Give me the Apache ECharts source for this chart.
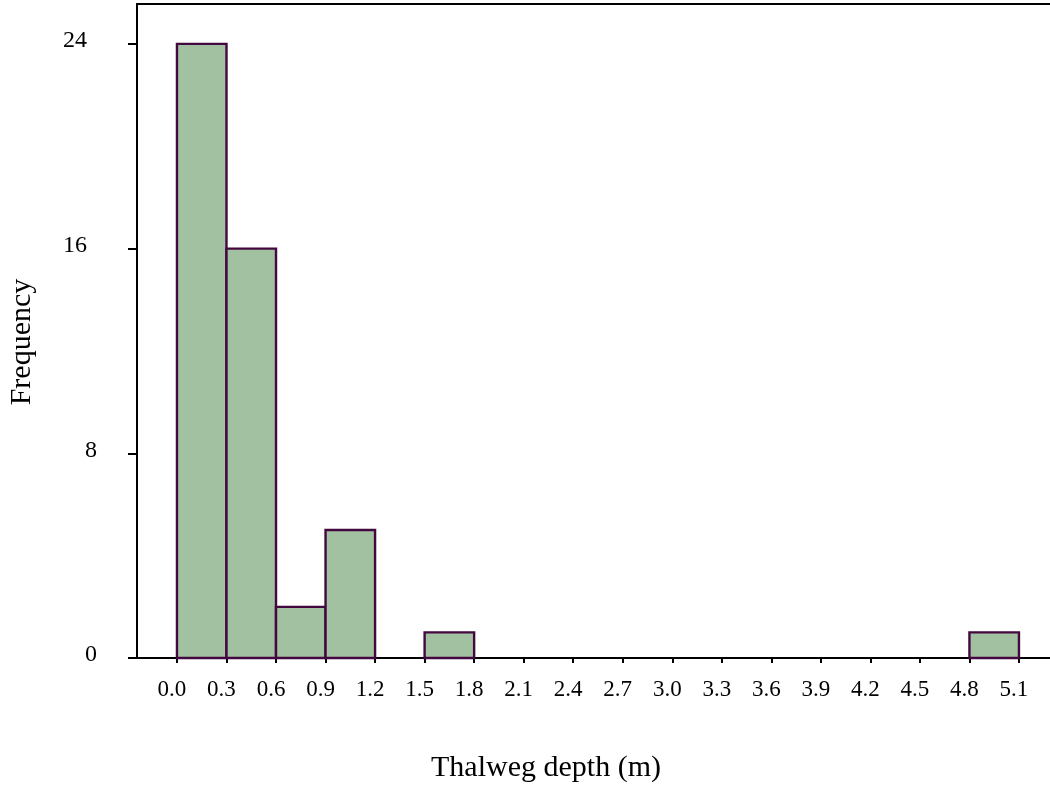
<!DOCTYPE html>
<html>
<head>
<meta charset="utf-8">
<script src="https://cdn.jsdelivr.net/npm/echarts@6/dist/echarts.min.js"></script>
<style>
html,body{margin:0;padding:0;background:#fff;}
#chart{width:1050px;height:790px;}
</style>
</head>
<body>
<div id="chart"></div>
<script>
// Histogram bins (m) and frequencies
const binStarts = [0.0, 0.3, 0.6, 0.9, 1.5, 4.8];
const binEnds   = [0.3, 0.6, 0.9, 1.2, 1.8, 5.1];
const counts    = [24, 16, 2, 5, 1, 1];
const xTicks = [0.0, 0.3, 0.6, 0.9, 1.2, 1.5, 1.8, 2.1, 2.4, 2.7, 3.0, 3.3, 3.6, 3.9, 4.2, 4.5, 4.8, 5.1];
const yTicks = [0, 8, 16, 24];
const xTitle = 'Thalweg depth (m)';
const yTitle = 'Frequency';

const FONT = "'Liberation Serif', 'Times New Roman', serif";
const data = binStarts.map((s, i) => [s, binEnds[i], counts[i]]);

const chart = echarts.init(document.getElementById('chart'), null, {renderer: 'canvas'});
chart.setOption({
  animation: false,
  backgroundColor: '#ffffff',
  grid: {left: 137, right: 0, top: 4, bottom: 132, containLabel: false},
  xAxis: [{
    type: 'value', min: -0.242, max: 5.288,
    position: 'bottom',
    axisLine: {show: true, onZero: false, lineStyle: {color: '#000', width: 2}},
    axisTick: {show: true, customValues: xTicks, length: 5, lineStyle: {color: '#000', width: 2}},
    axisLabel: {
      show: true, customValues: xTicks, margin: 20,
      formatter: v => v.toFixed(1),
      fontFamily: FONT, fontSize: 23, color: '#000',
      padding: [0, 10, 0, 0]
    },
    splitLine: {show: false}
  }, {
    type: 'value', min: -0.242, max: 5.288,
    position: 'top',
    axisLine: {show: true, onZero: false, lineStyle: {color: '#000', width: 2}},
    axisTick: {show: false}, axisLabel: {show: false}, splitLine: {show: false}
  }],
  yAxis: {
    type: 'value', min: 0, max: 25.56,
    axisLine: {show: true, onZero: false, lineStyle: {color: '#000', width: 2}},
    axisTick: {show: true, customValues: yTicks, length: 9, lineStyle: {color: '#000', width: 2}},
    axisLabel: {
      show: true, customValues: yTicks, margin: 40,
      fontFamily: FONT, fontSize: 24, color: '#000',
      formatter: v => (v >= 10 ? '{w|' + v + '}' : '{n|' + v + '}'),
      rich: {
        w: {fontFamily: FONT, fontSize: 24, color: '#000', padding: [0, 10, 6, 0]},
        n: {fontFamily: FONT, fontSize: 24, color: '#000', padding: [0, 0, 6, 0]}
      }
    },
    splitLine: {show: false}
  },
  series: [{
    type: 'custom',
    xAxisIndex: 0,
    data: data,
    encode: {x: [0, 1], y: 2},
    renderItem: function (params, api) {
      const p0 = api.coord([api.value(0), api.value(2)]);
      const p1 = api.coord([api.value(1), 0]);
      return {
        type: 'rect',
        shape: {x: p0[0], y: p0[1], width: p1[0] - p0[0], height: p1[1] - p0[1]},
        style: {fill: '#a2c1a0', stroke: '#440840', lineWidth: 2.4}
      };
    }
  }],
  graphic: [{
    type: 'text', x: 546, y: 768,
    style: {text: xTitle, font: '30px ' + FONT, fill: '#000', textAlign: 'center', textVerticalAlign: 'middle'}
  }, {
    type: 'text', x: 22, y: 342, rotation: Math.PI / 2,
    style: {text: yTitle, font: '30px ' + FONT, fill: '#000', textAlign: 'center', textVerticalAlign: 'middle'}
  }]
});
</script>
</body>
</html>
